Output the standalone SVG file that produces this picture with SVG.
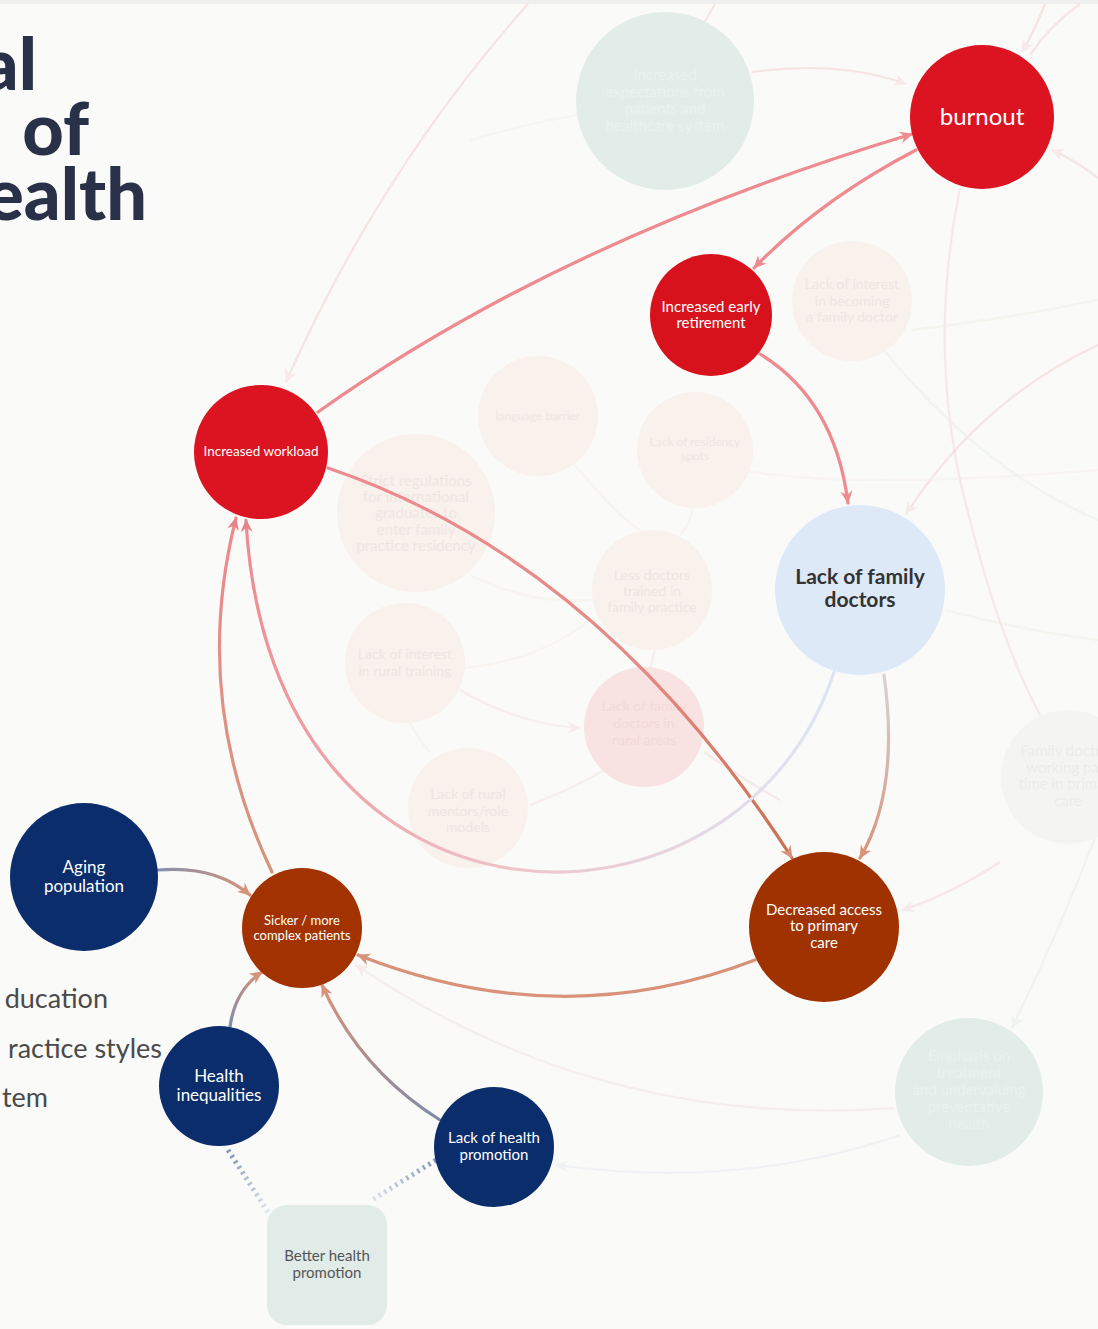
<svg xmlns="http://www.w3.org/2000/svg" width="1098" height="1329" viewBox="0 0 1098 1329">
<style>
text{font-family:Lato,"Open Sans","Liberation Sans",sans-serif;text-anchor:middle}
.w{fill:#fff}
.fade{fill:#efe6e2;font-size:14px}
.fadeg{fill:#eaf1ef;font-size:15px}
.c{fill:none;stroke-width:3.2;stroke-linecap:round}
.f{fill:none;stroke-width:2.2;opacity:.5}
.left{font-family:Lato,"Open Sans","Liberation Sans",sans-serif;text-anchor:end;fill:#4a4a4a;font-size:27px}
.title{font-family:Lato,"Open Sans","Liberation Sans",sans-serif;font-weight:900;text-anchor:end;fill:#283148;font-size:72px}
</style>
<defs>
<marker id="aP" markerUnits="userSpaceOnUse" markerWidth="16" markerHeight="16" viewBox="0 0 16 16" refX="13" refY="8" orient="auto"><path d="M1,2 L14,8 L1,14 L5,8 Z" fill="#ee8a90"/></marker>
<marker id="aB" markerUnits="userSpaceOnUse" markerWidth="16" markerHeight="16" viewBox="0 0 16 16" refX="13" refY="8" orient="auto"><path d="M1,2 L14,8 L1,14 L5,8 Z" fill="#d8927a"/></marker>
<marker id="aR" markerUnits="userSpaceOnUse" markerWidth="16" markerHeight="16" viewBox="0 0 16 16" refX="13" refY="8" orient="auto"><path d="M1,2 L14,8 L1,14 L5,8 Z" fill="#e5848a"/></marker>
<marker id="aF" markerUnits="userSpaceOnUse" markerWidth="16" markerHeight="16" viewBox="0 0 16 16" refX="13" refY="8" orient="auto"><path d="M1,2 L14,8 L1,14 L5,8 Z" fill="#f6dcdc"/></marker>
<marker id="aT" markerUnits="userSpaceOnUse" markerWidth="16" markerHeight="16" viewBox="0 0 16 16" refX="13" refY="8" orient="auto"><path d="M1,2 L14,8 L1,14 L5,8 Z" fill="#e6eeec"/></marker>
<linearGradient id="g4" gradientUnits="userSpaceOnUse" x1="328" y1="468" x2="792" y2="858"><stop offset="0" stop-color="#ee8a90"/><stop offset="0.6" stop-color="#e58a86"/><stop offset="1" stop-color="#c8704e"/></linearGradient>
<linearGradient id="g7" gradientUnits="userSpaceOnUse" x1="272" y1="872" x2="236" y2="518"><stop offset="0" stop-color="#d3957a"/><stop offset="1" stop-color="#ee8a90"/></linearGradient>
<linearGradient id="g8" gradientUnits="userSpaceOnUse" x1="834" y1="672" x2="246" y2="520"><stop offset="0" stop-color="#dfe4f2"/><stop offset="0.4" stop-color="#eec6cc"/><stop offset="1" stop-color="#ee8a90"/></linearGradient>
<linearGradient id="g5" gradientUnits="userSpaceOnUse" x1="884" y1="675" x2="860" y2="858"><stop offset="0" stop-color="#d9d3d3"/><stop offset="1" stop-color="#d8927a"/></linearGradient>
<linearGradient id="g9" gradientUnits="userSpaceOnUse" x1="158" y1="870" x2="250" y2="895"><stop offset="0" stop-color="#8590ab"/><stop offset="1" stop-color="#d8927a"/></linearGradient>
<linearGradient id="g10" gradientUnits="userSpaceOnUse" x1="230" y1="1027" x2="262" y2="972"><stop offset="0" stop-color="#7f8aa8"/><stop offset="1" stop-color="#d8927a"/></linearGradient>
<linearGradient id="g11" gradientUnits="userSpaceOnUse" x1="440" y1="1120" x2="322" y2="985"><stop offset="0" stop-color="#7f8aa8"/><stop offset="1" stop-color="#d8927a"/></linearGradient>
<linearGradient id="gd1" gradientUnits="userSpaceOnUse" x1="228" y1="1150" x2="268" y2="1212"><stop offset="0" stop-color="#8598b8"/><stop offset="1" stop-color="#dbe3ec"/></linearGradient>
<linearGradient id="gd2" gradientUnits="userSpaceOnUse" x1="436" y1="1160" x2="372" y2="1200"><stop offset="0" stop-color="#8598b8"/><stop offset="1" stop-color="#dbe3ec"/></linearGradient>
</defs>
<rect width="1098" height="1329" fill="#fafaf8"/>
<rect width="1098" height="4" fill="#efefef"/>

<g id="title">
<text class="title" x="37" y="90">al</text>
<text class="title" x="89" y="155">of</text>
<text class="title" x="147" y="220">ealth</text>
</g>
<g id="left-labels">
<text class="left" x="108" y="1008">ducation</text>
<text class="left" x="162" y="1058">ractice styles</text>
<text class="left" x="48" y="1107">tem</text>
</g>

<g id="faint-connectors">
<path class="f" d="M528,4 Q380,170 286,382" stroke="#f4d0d0" marker-end="url(#aF)"/>
<path class="f" d="M715,4 L700,30" stroke="#f4d0d0"/>
<path class="f" d="M1045,4 Q1035,30 1022,52" stroke="#f4d0d0" marker-end="url(#aF)"/>
<path class="f" d="M1080,4 Q1050,25 1030,55" stroke="#f4d0d0"/>
<path class="f" d="M1098,178 Q1075,160 1052,150" stroke="#f4d0d0" marker-end="url(#aF)"/>
<path class="f" d="M752,72 Q840,60 906,84" stroke="#f4d0d0" marker-end="url(#aF)"/>
<path class="f" d="M578,115 Q520,125 470,140" stroke="#eef2f0"/>
<path class="f" d="M960,188 Q925,360 970,520 Q1000,640 1040,715" stroke="#f4d8d8"/>
<path class="f" d="M1098,345 Q980,400 906,514" stroke="#f4d0d0" marker-end="url(#aF)"/>
<path class="f" d="M912,330 Q1000,320 1098,300" stroke="#eef0e4"/>
<path class="f" d="M880,345 Q980,470 1098,520" stroke="#e6eeec"/>
<path class="f" d="M945,610 Q1020,630 1098,640" stroke="#eef0e4"/>
<path class="f" d="M1000,862 Q950,895 902,910" stroke="#f4d8d8" marker-end="url(#aF)"/>
<path class="f" d="M1098,830 Q1060,930 1012,1028" stroke="#e6eeec" marker-end="url(#aT)"/>
<path class="f" d="M895,1108 Q600,1130 356,965" stroke="#f0e4e4" marker-end="url(#aF)"/>
<path class="f" d="M900,1135 Q740,1190 556,1165" stroke="#e6eaf2" marker-end="url(#aT)"/>
<path class="f" d="M565,453 Q620,520 640,530" stroke="#f6eee6"/>
<path class="f" d="M693,508 Q690,525 680,535" stroke="#f6eee6"/>
<path class="f" d="M470,575 Q530,605 590,600" stroke="#f6eee6"/>
<path class="f" d="M465,668 Q540,660 590,620" stroke="#f6eee6"/>
<path class="f" d="M460,690 Q520,725 580,728" stroke="#f6e4e4" marker-end="url(#aF)"/>
<path class="f" d="M604,770 Q570,790 530,805" stroke="#f6e4e4"/>
<path class="f" d="M430,752 Q415,735 410,722" stroke="#f6eee6"/>
<path class="f" d="M655,650 L650,668" stroke="#f6e4e4"/>
<path class="f" d="M704,752 Q760,790 780,800" stroke="#f4d8d8"/>
<path class="f" d="M740,470 Q850,490 1098,470" stroke="#f4eeee"/>
</g>

<g id="n-expectations"><circle cx="665" cy="101" r="89" fill="#e2ece9"/><text class="fadeg" x="665" y="80">Increased</text><text class="fadeg" x="665" y="97">expectations from</text><text class="fadeg" x="665" y="114">patients and</text><text class="fadeg" x="665" y="131">healthcare system</text></g>
<g id="n-interest-fd"><circle cx="852" cy="301" r="60" fill="#f9f1ec"/><text class="fade" x="852" y="289">Lack of interest</text><text class="fade" x="852" y="306">in becoming</text><text class="fade" x="852" y="322">a family doctor</text></g>
<g id="n-language"><circle cx="538" cy="416" r="60" fill="#f9f1ec"/><text class="fade" x="538" y="420" style="font-size:12px">language barrier</text></g>
<g id="n-residency"><circle cx="695" cy="450" r="58" fill="#f9f1ec"/><text class="fade" x="695" y="446" style="font-size:12px">Lack of residency</text><text class="fade" x="695" y="460" style="font-size:12px">spots</text></g>
<g id="n-strict"><circle cx="416" cy="513" r="79" fill="#f9f1ec"/><text class="fade" x="416" y="486" style="font-size:15px">Strict regulations</text><text class="fade" x="416" y="502" style="font-size:15px">for international</text><text class="fade" x="416" y="518" style="font-size:15px">graduates to</text><text class="fade" x="416" y="535" style="font-size:15px">enter family</text><text class="fade" x="416" y="551" style="font-size:15px">practice residency</text></g>
<g id="n-less-trained"><circle cx="652" cy="590" r="60" fill="#f9f1ec"/><text class="fade" x="652" y="580">Less doctors</text><text class="fade" x="652" y="596">trained in</text><text class="fade" x="652" y="612">family practice</text></g>
<g id="n-rural-training"><circle cx="405" cy="663" r="60" fill="#f9f1ec"/><text class="fade" x="405" y="659">Lack of interest</text><text class="fade" x="405" y="676">in rural training</text></g>
<g id="n-rural-fd"><circle cx="644" cy="727" r="60" fill="#f8e2e2"/><text x="644" y="711" style="fill:#f4d9d9;font-size:14px">Lack of family</text><text x="644" y="728" style="fill:#f4d9d9;font-size:14px">doctors in</text><text x="644" y="745" style="fill:#f4d9d9;font-size:14px">rural areas</text></g>
<g id="n-mentors"><circle cx="468" cy="808" r="60" fill="#f9f1ec"/><text class="fade" x="468" y="799">Lack of rural</text><text class="fade" x="468" y="816">mentors/role</text><text class="fade" x="468" y="832">models</text></g>
<g id="n-parttime"><circle cx="1068" cy="777" r="67" fill="#f4f4f3"/><text x="1068" y="756" style="fill:#ececec;font-size:15px">Family doctors</text><text x="1068" y="773" style="fill:#ececec;font-size:15px">working part</text><text x="1068" y="789" style="fill:#ececec;font-size:15px">time in primary</text><text x="1068" y="806" style="fill:#ececec;font-size:15px">care</text></g>
<g id="n-emphasis"><circle cx="969" cy="1092" r="74" fill="#e2ece9"/><text class="fadeg" x="969" y="1061">Emphasis on</text><text class="fadeg" x="969" y="1078">treatment</text><text class="fadeg" x="969" y="1095">and undervaluing</text><text class="fadeg" x="969" y="1112">preventative</text><text class="fadeg" x="969" y="1129">health</text></g>

<g id="connectors">
<path class="c" d="M318,412 Q560,240 912,134" stroke="#ee8a90" marker-end="url(#aP)"/>
<path class="c" d="M916,150 Q820,200 754,268" stroke="#ee8a90" marker-end="url(#aP)"/>
<path class="c" d="M760,354 Q835,400 848,503" stroke="#ee8a90" marker-end="url(#aP)"/>
<path class="c" d="M328,468 Q600,560 792,858" stroke="url(#g4)" marker-end="url(#aB)"/>
<path class="c" d="M884,675 Q900,790 860,858" stroke="url(#g5)" marker-end="url(#aB)"/>
<path class="c" d="M755,960 Q560,1035 358,955" stroke="#d8927a" marker-end="url(#aB)"/>
<path class="c" d="M272,872 Q190,700 236,518" stroke="url(#g7)" marker-end="url(#aR)"/>
<path class="c" d="M834,672 C740,960 270,960 246,520" stroke="url(#g8)" marker-end="url(#aR)"/>
<path class="c" d="M158,870 Q215,865 250,895" stroke="url(#g9)" marker-end="url(#aB)"/>
<path class="c" d="M230,1027 Q235,990 262,972" stroke="url(#g10)" marker-end="url(#aB)"/>
<path class="c" d="M440,1120 Q360,1070 322,985" stroke="url(#g11)" marker-end="url(#aB)"/>
<path d="M228,1150 L268,1212" fill="none" stroke="url(#gd1)" stroke-width="5" stroke-dasharray="2.5 4"/>
<path d="M436,1160 L372,1200" fill="none" stroke="url(#gd2)" stroke-width="5" stroke-dasharray="2.5 4"/>
</g>

<g id="n-burnout"><circle cx="982" cy="117" r="72" fill="#dc1320"/><text class="w" x="982" y="125" style="font-size:24px">burnout</text></g>
<g id="n-retirement"><circle cx="711" cy="315" r="61" fill="#d7121c"/><text class="w" x="711" y="312" style="font-size:15px">Increased early</text><text class="w" x="711" y="328" style="font-size:15px">retirement</text></g>
<g id="n-workload"><circle cx="261" cy="452" r="67" fill="#dc1320"/><text class="w" x="261" y="456" style="font-size:13.5px">Increased workload</text></g>
<g id="n-lack-fd"><circle cx="860" cy="590" r="85" fill="#dde9f7"/><text x="860" y="584" style="fill:#333;font-size:21px;font-weight:700">Lack of family</text><text x="860" y="607" style="fill:#333;font-size:21px;font-weight:700">doctors</text></g>
<g id="n-access"><circle cx="824" cy="927" r="75" fill="#a03200"/><text class="w" x="824" y="915" style="font-size:15px">Decreased access</text><text class="w" x="824" y="931" style="font-size:15px">to primary</text><text class="w" x="824" y="948" style="font-size:15px">care</text></g>
<g id="n-sicker"><circle cx="302" cy="928" r="60" fill="#a23300"/><text class="w" x="302" y="925" style="font-size:13px">Sicker / more</text><text class="w" x="302" y="940" style="font-size:13px">complex patients</text></g>
<g id="n-aging"><circle cx="84" cy="877" r="74" fill="#0b2d6b"/><text class="w" x="84" y="873" style="font-size:17px">Aging</text><text class="w" x="84" y="892" style="font-size:17px">population</text></g>
<g id="n-inequalities"><circle cx="219" cy="1086" r="60" fill="#0b2d6b"/><text class="w" x="219" y="1082" style="font-size:17px">Health</text><text class="w" x="219" y="1101" style="font-size:17px">inequalities</text></g>
<g id="n-promotion"><circle cx="494" cy="1147" r="60" fill="#0b2d6b"/><text class="w" x="494" y="1143" style="font-size:15px">Lack of health</text><text class="w" x="494" y="1160" style="font-size:15px">promotion</text></g>
<g id="n-better"><rect x="267" y="1205" width="120" height="120" rx="20" fill="#e1ebe8"/><text x="327" y="1261" style="fill:#555;font-size:15px">Better health</text><text x="327" y="1278" style="fill:#555;font-size:15px">promotion</text></g>
</svg>
